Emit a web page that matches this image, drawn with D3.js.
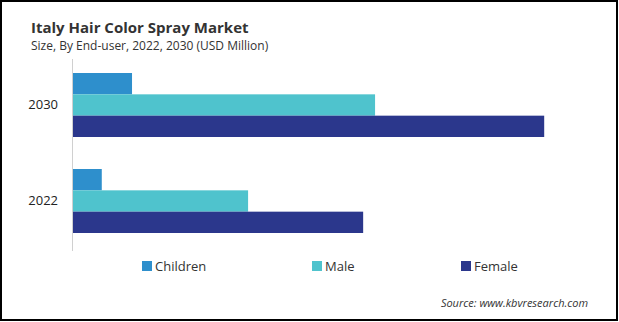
<!DOCTYPE html>
<html>
<head>
<meta charset="utf-8">
<script src="https://cdn.jsdelivr.net/npm/d3@7"></script>
<style>
html,body{margin:0;padding:0;background:#fff;}
svg{display:block;}
text{font-family:"Open Sans",sans-serif;}
</style>
</head>
<body>
<svg id="chart" width="619" height="322"></svg>
<script>
const years = ["2030", "2022"];
const seriesNames = ["Children", "Male", "Female"];
const children = [1.19, 0.58];
const male = [6.09, 3.53];
const female = [9.5, 5.85];
const colors = ["#2E8FCC", "#4FC3CD", "#2B378C"];

const svg = d3.select("#chart");
const W = 619, H = 322;

// frame
svg.append("rect").attr("x", 1).attr("y", 1).attr("width", W - 3).attr("height", H - 3)
  .attr("fill", "#fff").attr("stroke", "#000").attr("stroke-width", 2);

svg.append("text").attr("x", 31).attr("y", 33).attr("font-size", 15).attr("font-weight", "bold")
  .attr("fill", "#333").text("Italy Hair Color Spray Market");
svg.append("text").attr("x", 31).attr("y", 50).attr("font-size", 12).attr("fill", "#333")
  .text("Size, By End-user, 2022, 2030 (USD Million)");

const x = d3.scaleLinear().domain([0, 10]).range([73, 569]);
const y = d3.scaleBand().domain(years).range([57, 249]).paddingInner(1 / 3).paddingOuter(1 / 6);
const sub = d3.scaleBand().domain(seriesNames).range([0, y.bandwidth()]);

const data = years.map((yr, i) => ({year: yr, values: [children[i], male[i], female[i]]}));

const g = svg.append("g");
data.forEach(d => {
  d.values.forEach((v, j) => {
    g.append("rect")
      .attr("x", x(0))
      .attr("y", y(d.year) + sub(seriesNames[j]))
      .attr("width", x(v) - x(0))
      .attr("height", sub.bandwidth())
      .attr("fill", colors[j]);
  });
});

// axis line
svg.append("line").attr("x1", 72.5).attr("x2", 72.5).attr("y1", 59).attr("y2", 251)
  .attr("stroke", "#d0d0d0").attr("stroke-width", 1);

const yAxis = d3.axisLeft(y).tickSize(0).tickPadding(14);
const ya = svg.append("g").attr("transform", "translate(72,0)").call(yAxis);
ya.select(".domain").remove();
ya.selectAll("text").attr("font-size", 13).attr("fill", "#222").attr("font-family", "Open Sans, sans-serif");

// legend
const legX = [142, 312, 461];
seriesNames.forEach((s, j) => {
  svg.append("rect").attr("x", legX[j]).attr("y", 261).attr("width", 10).attr("height", 10).attr("fill", colors[j]);
  svg.append("text").attr("x", legX[j] + 13).attr("y", 271).attr("font-size", 13).attr("fill", "#333").text(s);
});

svg.append("text").attr("x", 588).attr("y", 307).attr("text-anchor", "end").attr("font-size", 11)
  .attr("font-style", "italic").attr("fill", "#333").text("Source: www.kbvresearch.com");
</script>
</body>
</html>
